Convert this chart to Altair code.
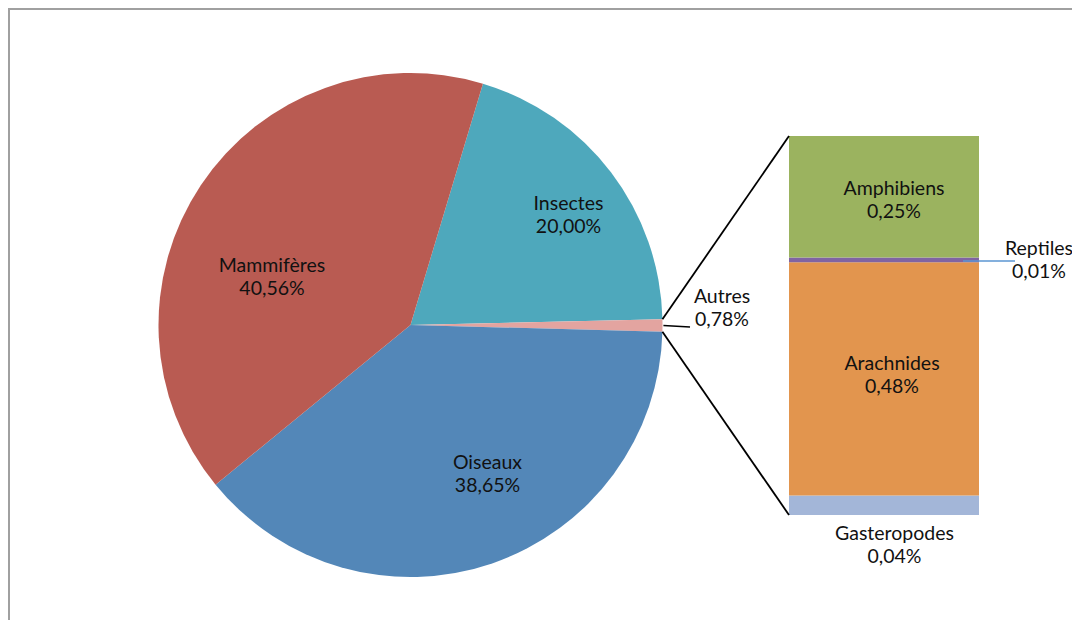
import math
import altair as alt
import pandas as pd

# ---------------- data ----------------
pie_categories = ["Insectes", "Autres", "Oiseaux", "Mammifères"]
pie_values = [20.00, 0.78, 38.65, 40.56]

bar_categories = ["Gasteropodes", "Arachnides", "Reptiles", "Amphibiens"]
bar_values = [0.04, 0.48, 0.01, 0.25]

all_categories = pie_categories + bar_categories
all_colors = ["#4EA8BC", "#E3A4A0", "#5387B8", "#B95B52",
              "#A3B6D8", "#E2954E", "#8064A2", "#9BB35F"]


def fmt(v):
    return f"{v:.2f}".replace(".", ",") + "%"


pie_df = pd.DataFrame({"category": pie_categories, "value": pie_values,
                       "order": list(range(len(pie_categories)))})
bar_df = pd.DataFrame({"category": bar_categories, "value": bar_values,
                       "order": list(range(len(bar_categories)))})

# ---------------- layout (chart coordinates) ----------------
W, H = 1064, 612
CX, CY, R = 402.5, 317, 252
ROT = math.radians(16.7)
BAR_X0, BAR_X1 = 781, 971
BAR_TOP, BAR_BOTTOM = 128, 507

FONT = "Lato"
FS = 19.5
LH = 23

label_pos = {
    "Mammifères": (264, 264),
    "Insectes": (560.5, 202),
    "Oiseaux": (479.5, 461),
    "Autres": (714, 295),
    "Amphibiens": (886, 187),
    "Arachnides": (884, 362),
    "Gasteropodes": (886.5, 532),
    "Reptiles": (1031, 247),
}

color_scale = alt.Scale(domain=all_categories, range=all_colors)

# pie
total = sum(pie_values)
pie = alt.Chart(pie_df).mark_arc(outerRadius=R).encode(
    theta=alt.Theta("value:Q", stack=True,
                    scale=alt.Scale(domain=[0, total], range=[ROT, ROT + 2 * math.pi])),
    color=alt.Color("category:N", scale=color_scale, legend=None),
    order=alt.Order("order:Q"),
    x=alt.value(CX),
    y=alt.value(CY),
)

# bar (stacked), y scale derived from its layout box
bar_total = sum(bar_values)
k = (BAR_BOTTOM - BAR_TOP) / bar_total
d0 = -(H - BAR_BOTTOM) / k
d1 = d0 + H / k

bar = alt.Chart(bar_df).transform_stack(
    stack="value", as_=["v0", "v1"], groupby=[],
    sort=[alt.SortField("order", order="ascending")],
).mark_bar().encode(
    x=alt.value(BAR_X0),
    x2=alt.value(BAR_X1),
    y=alt.Y("v0:Q", scale=alt.Scale(domain=[d0, d1], nice=False, zero=False), axis=None),
    y2="v1:Q",
    color=alt.Color("category:N", scale=color_scale, legend=None),
)

# connector lines from the "Autres" slice edges to the bar corners
idx = pie_categories.index("Autres")
a_start = ROT + sum(pie_values[:idx]) / total * 2 * math.pi
a_end = a_start + pie_values[idx] / total * 2 * math.pi


def pt(a):
    return CX + R * math.sin(a), CY - R * math.cos(a)


p1 = pt(a_start)
p2 = pt(a_end)
dummy = pd.DataFrame({"d": [0]})


def rule(x, y, x2, y2, color="#000000", width=1.8):
    return alt.Chart(dummy).mark_rule(color=color, strokeWidth=width).encode(
        x=alt.value(x), y=alt.value(y), x2=alt.value(x2), y2=alt.value(y2))


lines = [
    rule(p1[0], p1[1], BAR_X0, BAR_TOP),
    rule(p2[0], p2[1], BAR_X0, BAR_BOTTOM),
    rule(p1[0] + 1, (p1[1] + p2[1]) / 2, 682, 319, width=1.5),
    rule(955, 253, 1007, 253, color="#5B96D2", width=1.5),
    rule(0, 1, W, 1, color="#A0A0A0", width=2),
    rule(1, 0, 1, H, color="#A0A0A0", width=2),
]

# labels
label_values = dict(zip(pie_categories + bar_categories, pie_values + bar_values))
texts = []
for cat, (lx, ly) in label_pos.items():
    tdf = pd.DataFrame({"t": [f"{cat}\n{fmt(label_values[cat])}"]})
    texts.append(
        alt.Chart(tdf).mark_text(align="center", baseline="alphabetic", font=FONT,
                                 fontSize=FS, lineHeight=LH, lineBreak="\n",
                                 color="#111111").encode(
            text="t:N", x=alt.value(lx), y=alt.value(ly))
    )

chart = alt.layer(pie, bar, *lines, *texts).properties(
    width=W, height=H, padding=0, autosize=alt.AutoSizeParams(type="none")
).configure_view(strokeWidth=0)

chart.save("out.html", embed_options={"renderer": "svg", "actions": False})
